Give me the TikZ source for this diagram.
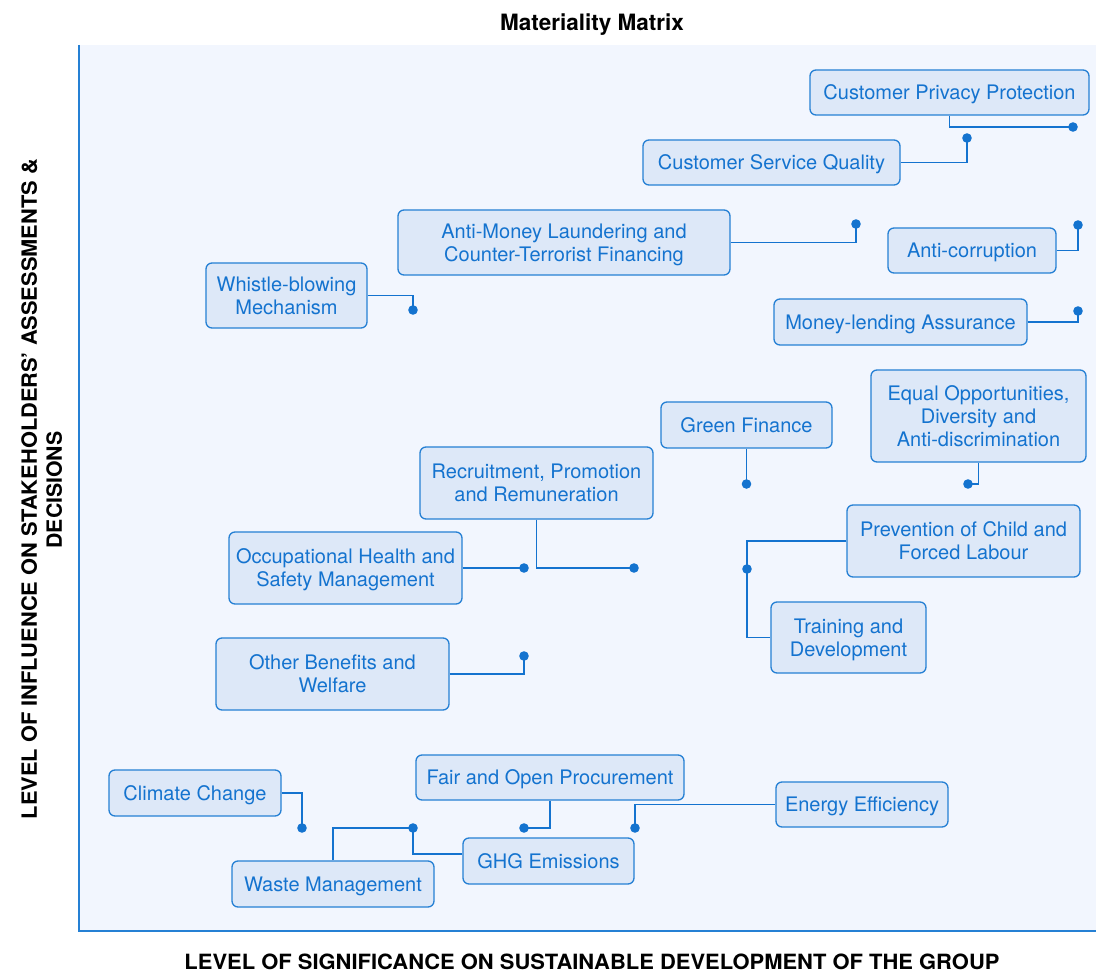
\documentclass[tikz,border=0pt]{standalone}
\usepackage{fontspec}
\setmainfont{TeX Gyre Heros}
\usepackage{graphicx}
\definecolor{bgplot}{HTML}{F2F6FE}
\definecolor{boxfill}{HTML}{DDE8F8}
\definecolor{boxline}{HTML}{2580D4}
\definecolor{txtblue}{HTML}{1473CF}
\definecolor{linkblue}{HTML}{1473CF}
\begin{document}
\begin{tikzpicture}[x=1pt,y=-1pt,
  box/.style 2 args={draw=boxline, line width=1.3pt, fill=boxfill, rounded corners=6pt,
    minimum width=#1, minimum height=#2, inner sep=0pt, align=center, text=txtblue,
    text depth=0pt, font=\fontsize{20}{23}\selectfont},
  conn/.style={draw=linkblue, line width=1.3pt},
  dot/.style={fill=linkblue}]
\useasboundingbox (0,0) rectangle (1096,973);
\fill[white] (0,0) rectangle (1096,973);
\fill[bgplot] (79,45) rectangle (1096,931);
\draw[boxline, line width=1.8pt] (79,45) -- (79,931) -- (1096,931);

\node[font=\bfseries\fontsize{22.5}{26}\selectfont, text depth=0pt] (title) at (592,22) {Materiality Matrix};
\node[font=\bfseries\fontsize{21}{25}\selectfont, anchor=base] (xlab) at (592,969)
  {\resizebox{815pt}{\height}{LEVEL OF SIGNIFICANCE ON SUSTAINABLE DEVELOPMENT OF THE GROUP}};
\node[font=\bfseries\fontsize{21}{25}\selectfont, rotate=90, anchor=base] (ylab1) at (37,489)
  {\resizebox{660pt}{\height}{LEVEL OF INFLUENCE ON STAKEHOLDERS’ ASSESSMENTS \&}};
\node[font=\bfseries\fontsize{21}{25}\selectfont, rotate=90, anchor=base] (ylab2) at (62,490)
  {\resizebox{117pt}{\height}{DECISIONS}};

% boxes
\node[box={279pt}{45pt}] (cpp) at (949.5,92.5) {Customer Privacy Protection};
\node[box={257pt}{45pt}] (csq) at (771.5,162.5) {Customer Service Quality};
\node[box={332pt}{65pt}] (aml) at (564,242.5) {Anti-Money Laundering and\\Counter-Terrorist Financing};
\node[box={168pt}{45pt}] (ac) at (972,250.5) {Anti-corruption};
\node[box={161pt}{65pt}] (wb) at (286.5,295.5) {Whistle-blowing\\Mechanism};
\node[box={253pt}{46pt}] (mla) at (900.5,322) {Money-lending Assurance};
\node[box={171pt}{46pt}] (gf) at (746.5,425) {Green Finance};
\node[box={215pt}{92pt}] (eo) at (978.5,416) {Equal Opportunities,\\Diversity and\\Anti-discrimination};
\node[box={233pt}{72pt}] (rpr) at (536.5,483) {Recruitment, Promotion\\and Remuneration};
\node[box={233pt}{72pt}] (ohs) at (345.5,568) {Occupational Health and\\Safety Management};
\node[box={233pt}{72pt}] (pcf) at (963.5,541) {Prevention of Child and\\Forced Labour};
\node[box={155pt}{71pt}] (td) at (848.5,637.5) {Training and\\Development};
\node[box={233pt}{72pt}] (obw) at (332.5,674) {Other Benefits and\\Welfare};
\node[box={172pt}{46pt}] (cc) at (195,793) {Climate Change};
\node[box={268pt}{45pt}] (fop) at (550,777.5) {Fair and Open Procurement};
\node[box={172pt}{45pt}] (ee) at (862,804.5) {Energy Efficiency};
\node[box={171pt}{46pt}] (ghg) at (548.5,861) {GHG Emissions};
\node[box={202pt}{46pt}] (wm) at (333,884) {Waste Management};

% dot coordinates
\coordinate (d1) at (1073,127);
\coordinate (d2) at (967,138);
\coordinate (d3) at (856,224);
\coordinate (d4) at (1078,225);
\coordinate (d5) at (413,310);
\coordinate (d6) at (1078,311);
\coordinate (d7) at (746.5,484);
\coordinate (d8) at (968,484);
\coordinate (d9) at (634,568);
\coordinate (d10) at (524,568);
\coordinate (d11) at (747,569);
\coordinate (d12) at (524,656);
\coordinate (d13) at (302,828);
\coordinate (d14) at (524,828);
\coordinate (d15) at (635,828);
\coordinate (d16) at (413,828);

% connectors
\draw[conn] (cpp.south) |- (d1);
\draw[conn] (csq.east) -| (d2);
\draw[conn] (aml.east) -| (d3);
\draw[conn] (ac.east) -| (d4);
\draw[conn] (wb.east) -| (d5);
\draw[conn] (mla.east) -| (d6);
\draw[conn] (gf.south) -- (d7);
\draw[conn] (eo.south) |- (d8);
\draw[conn] (rpr.south) |- (d9);
\draw[conn] (ohs.east) -- (d10);
\draw[conn] (pcf.west) -| (d11) |- (td.west);
\draw[conn] (obw.east) -| (d12);
\draw[conn] (cc.east) -| (d13);
\draw[conn] (fop.south) |- (d14);
\draw[conn] (ee.west) -| (d15);
\draw[conn] ([yshift=7pt]ghg.west) -| (d16);
\draw[conn] (wm.north) |- (d16);

\foreach \d in {d1,d2,d3,d4,d5,d6,d7,d8,d9,d10,d11,d12,d13,d14,d15,d16}
  \fill[dot] (\d) circle (4.8);
\end{tikzpicture}
\end{document}
